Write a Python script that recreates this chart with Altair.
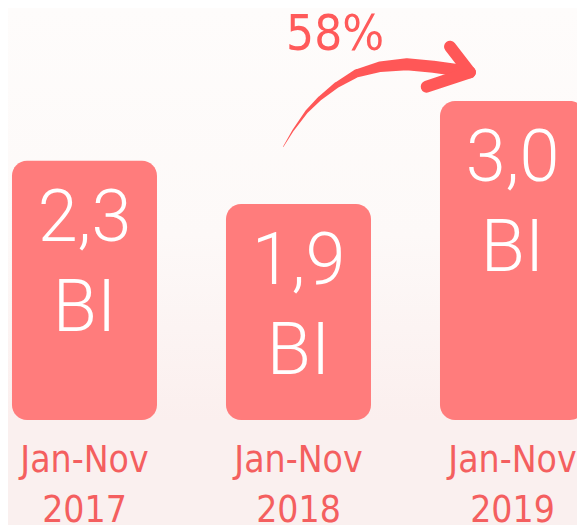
import altair as alt
import pandas as pd

# ---- data ----
periods = ["Jan-Nov 2017", "Jan-Nov 2018", "Jan-Nov 2019"]
values = [2.3, 1.9, 3.0]
value_labels = ["2,3", "1,9", "3,0"]
unit = "BI"
baseline_value = 0.729

# arrow annotation, in (bar index, value) units
arrow_u = [0.929, 0.976, 1.038, 1.100, 1.179, 1.272, 1.381, 1.506, 1.630, 1.739, 1.801]
arrow_v = [2.449, 2.638, 2.861, 3.035, 3.220, 3.391, 3.492, 3.530, 3.492, 3.441, 3.406]
head_u = [1.708, 1.801, 1.599]
head_v = [3.816, 3.406, 3.196]
pct_u = [1.171]
pct_v = [3.760]

growth = round((values[2] / values[1] - 1) * 100)

bars_df = pd.DataFrame({
    "period": periods,
    "value": values,
    "base": [baseline_value] * len(values),
    "txt": [f"{v}\n{unit}" for v in value_labels],
})
arrow_df = pd.DataFrame({"u": arrow_u, "v": arrow_v, "i": list(range(len(arrow_u)))})
head_df = pd.DataFrame({"u": head_u, "v": head_v, "i": list(range(len(head_u)))})
pct_df = pd.DataFrame({"u": pct_u, "v": pct_v, "t": [f"{growth}%"]})
bg_df = pd.DataFrame({"k": [0]})

BAR = "#ff7c7c"
RED = "#ff5757"
LABEL = "#f45f5f"
NARROW = "Liberation Sans Narrow, DejaVu Sans Condensed, sans-serif"

yscale = alt.Scale(type="log", domain=[baseline_value, 4.53], nice=False)

x_band = alt.X(
    "period:N",
    sort=None,
    scale=alt.Scale(paddingInner=0.3224, paddingOuter=0.0093, align=1),
    axis=alt.Axis(
        title=None, domain=False, ticks=False, grid=False, labelAngle=0,
        labelExpr="split(datum.label, ' ')",
        labelFont=NARROW, labelFontSize=37, labelColor=LABEL,
        labelPadding=22, labelLineHeight=50, labelBaseline="top",
    ),
)
x_arrow = alt.X("u:Q", scale=alt.Scale(domain=[-0.35748, 2.33879], nice=False, zero=False), axis=None)

gradient = alt.LinearGradient(
    gradient="linear", x1=0, y1=0, x2=0, y2=1,
    stops=[
        alt.GradientStop(offset=0, color="#fefcfb"),
        alt.GradientStop(offset=0.55, color="#fdf9f8"),
        alt.GradientStop(offset=1, color="#fbefee"),
    ],
)
backdrop = alt.Chart(bg_df).mark_rect(color=gradient).encode(opacity=alt.value(1))

bars = alt.Chart(bars_df).mark_bar(cornerRadius=15, color=BAR).encode(
    x=x_band,
    y=alt.Y("value:Q", scale=yscale, axis=None),
    y2="base:Q",
)

bar_text = alt.Chart(bars_df).mark_text(
    baseline="top", dy=23, fontSize=72, font="Roboto", fontWeight=300,
    color="white", lineBreak="\n", lineHeight=90,
).encode(
    x=x_band,
    y=alt.Y("value:Q", scale=yscale, axis=None),
    text="txt:N",
)

trail = alt.Chart(arrow_df).mark_trail(color=RED).encode(
    x=x_arrow,
    y=alt.Y("v:Q", scale=yscale, axis=None),
    order="i:O",
    size=alt.Size("u:Q", scale=alt.Scale(domain=[0.929, 1.45], range=[0.5, 12], clamp=True), legend=None),
)

head = alt.Chart(head_df).mark_line(
    color=RED, strokeWidth=12, strokeCap="round", strokeJoin="round"
).encode(
    x=x_arrow,
    y=alt.Y("v:Q", scale=yscale, axis=None),
    order="i:O",
)

pct = alt.Chart(pct_df).mark_text(
    font=NARROW, fontSize=49, color="#ff5a5a", baseline="alphabetic", align="center"
).encode(
    x=x_arrow,
    y=alt.Y("v:Q", scale=yscale, axis=None),
    text="t:N",
)

bar_layer = alt.layer(backdrop, bars, bar_text)
arrow_layer = alt.layer(trail, head, pct)

chart = alt.layer(bar_layer, arrow_layer).resolve_scale(
    x="independent"
).properties(
    width=577, height=412,
    padding={"left": 0, "top": 0, "right": -8, "bottom": 105},
    autosize=alt.AutoSizeParams(type="none"),
    background="#faf0ef",
).configure_view(stroke=None)

chart.save("out.html", embed_options={"renderer": "svg", "actions": False})
